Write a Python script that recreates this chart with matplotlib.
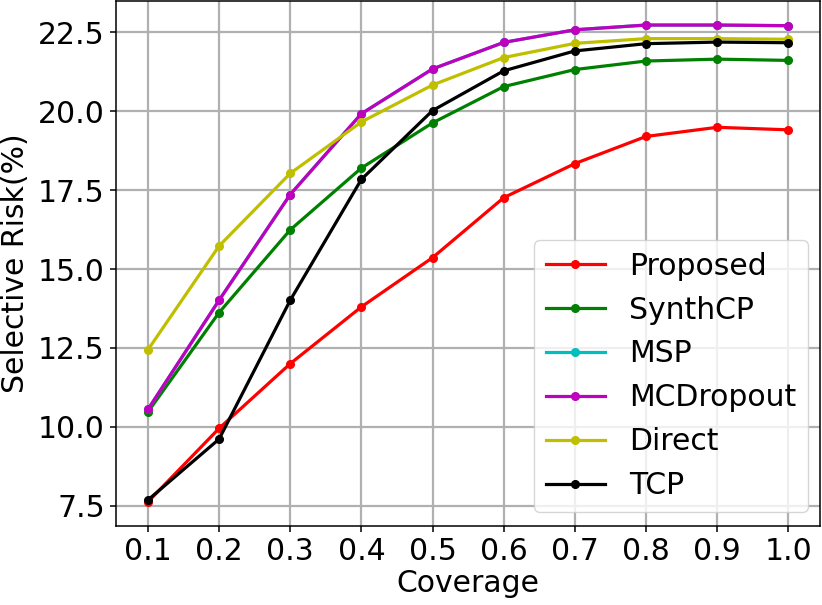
import matplotlib
matplotlib.use("Agg")
import matplotlib.pyplot as plt
from matplotlib.ticker import MultipleLocator

coverage = [0.1, 0.2, 0.3, 0.4, 0.5, 0.6, 0.7, 0.8, 0.9, 1.0]
proposed = [7.62, 9.95, 12.00, 13.80, 15.36, 17.26, 18.34, 19.20, 19.49, 19.41]
synthcp = [10.47, 13.62, 16.24, 18.20, 19.63, 20.78, 21.32, 21.59, 21.65, 21.61]
msp = [10.55, 14.01, 17.36, 19.92, 21.34, 22.18, 22.58, 22.73, 22.73, 22.71]
mcdropout = [10.55, 14.01, 17.36, 19.92, 21.34, 22.18, 22.58, 22.73, 22.73, 22.71]
direct = [12.44, 15.73, 18.03, 19.66, 20.83, 21.70, 22.15, 22.30, 22.30, 22.28]
tcp = [7.68, 9.61, 14.01, 17.84, 20.02, 21.28, 21.91, 22.14, 22.19, 22.17]

series = [
    ("Proposed", proposed, "r"),
    ("SynthCP", synthcp, "g"),
    ("MSP", msp, "c"),
    ("MCDropout", mcdropout, "m"),
    ("Direct", direct, "y"),
    ("TCP", tcp, "k"),
]

plt.rcParams["font.size"] = 21.5
fig = plt.figure(figsize=(8.22, 6.05), dpi=100)
ax = fig.add_axes([0.141, 0.131, 0.857, 0.867])
for name, vals, col in series:
    ax.plot(coverage, vals, color=col, marker="o", linewidth=2.3, markersize=5.5, label=name)

ax.set_xticks(coverage)
ax.set_xticklabels([f"{c:.1f}" for c in coverage])
ax.yaxis.set_major_locator(MultipleLocator(2.5))
ax.grid(True, color="#b0b0b0", linewidth=1.6)
ax.tick_params(length=4.5, width=1.1)
for s in ax.spines.values():
    s.set_linewidth(1.1)
ax.set_xlabel("Coverage", labelpad=2)
ax.set_ylabel("Selective Risk(%)", labelpad=6)
ax.legend(loc="lower right", fontsize=21.5, handlelength=2.0, labelspacing=0.5,
          borderaxespad=0.4, bbox_to_anchor=(1.0, 0.003))
fig.savefig("out.png", dpi=100)
